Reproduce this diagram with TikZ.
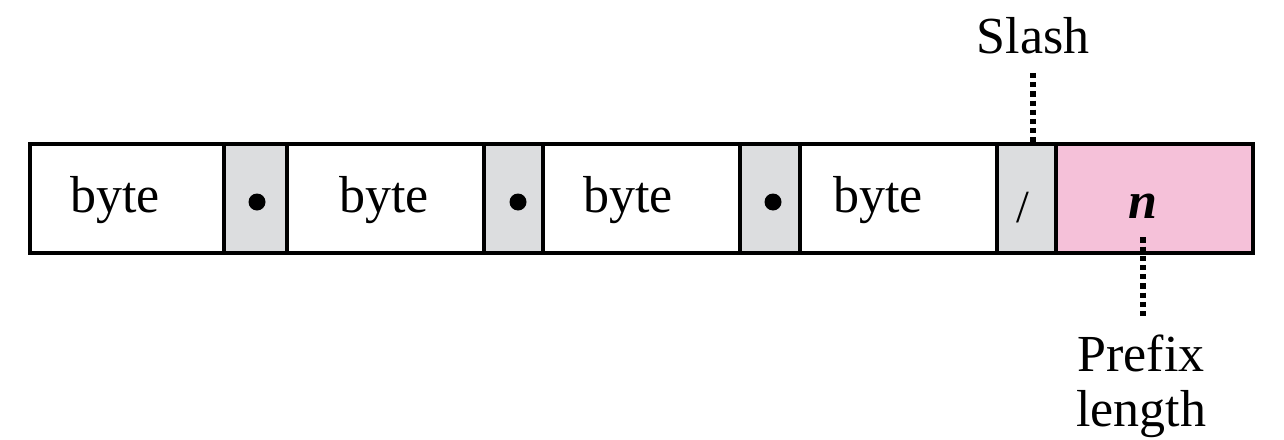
\documentclass[tikz,border=0pt]{standalone}
\usepackage{fontspec}
\setmainfont{Liberation Serif}
\newfontfamily\timesface{Liberation Serif}
\usetikzlibrary{positioning}
\definecolor{sepgray}{HTML}{DCDDDF}
\definecolor{prefixpink}{HTML}{F5C1D9}

\begin{document}
\begin{tikzpicture}[x=0.5pt,y=-0.5pt,
    cell/.style={draw,line width=2pt,minimum height=54.5pt,inner sep=0pt},
    sepcell/.style={cell,fill=sepgray},
    txt/.style={font=\timesface\fontsize{26}{27.5}\selectfont,inner sep=0pt},
    dot/.style={circle,fill,inner sep=0pt,minimum size=8.5pt},
    leader/.style={line width=2.8pt,dash pattern=on 2.6pt off 2pt}]

    \useasboundingbox (0,0) rectangle (1284,439);

    % address cells
    \node[cell,minimum width=97pt] (c1) at (127,198.5) {};
    \node[cell,minimum width=98.5pt] (c2) at (385.5,198.5) {};
    \node[cell,minimum width=98.5pt] (c3) at (641.5,198.5) {};
    \node[cell,minimum width=98.5pt] (c4) at (898.5,198.5) {};
    \node[sepcell,minimum width=31.5pt] (s1) at (255.5,198.5) {};
    \node[sepcell,minimum width=29.5pt] (s2) at (513.5,198.5) {};
    \node[sepcell,minimum width=30pt] (s3) at (770,198.5) {};
    \node[sepcell,minimum width=29.5pt] (sl) at (1026.5,198.5) {};
    \node[cell,fill=prefixpink,minimum width=98.5pt] (pn) at (1154.5,198.5) {};

    \begin{scope}[every node/.append style={txt,anchor=base}]
      \node (b1) at (115,212) {byte};
      \node (b2) at (384,212) {byte};
      \node (b3) at (628,212) {byte};
      \node (b4) at (878,212) {byte};
      \node[font=\timesface\fontsize{23}{24}\selectfont] (sym) at (1023,222) {/};
      \node[font=\timesface\fontsize{26}{27.5}\selectfont\bfseries\itshape] (n) at (1143,218) {n};
      \node (slash) at (1033,53) {Slash};
    \end{scope}

    \node[dot] (d1) at (257,202) {};
    \node[dot] (d2) at (518,202) {};
    \node[dot] (d3) at (773,202) {};

    \node[txt,anchor=north,align=center] (plen) at (1141,334) {Prefix\\length};

    \draw[leader,shorten <=9.5pt] (slash.south) -- (slash.south |- sl.north);
    \draw[leader,shorten <=9.5pt,shorten >=7pt] (n.south) -- (n.south |- plen.north);
\end{tikzpicture}
\end{document}
